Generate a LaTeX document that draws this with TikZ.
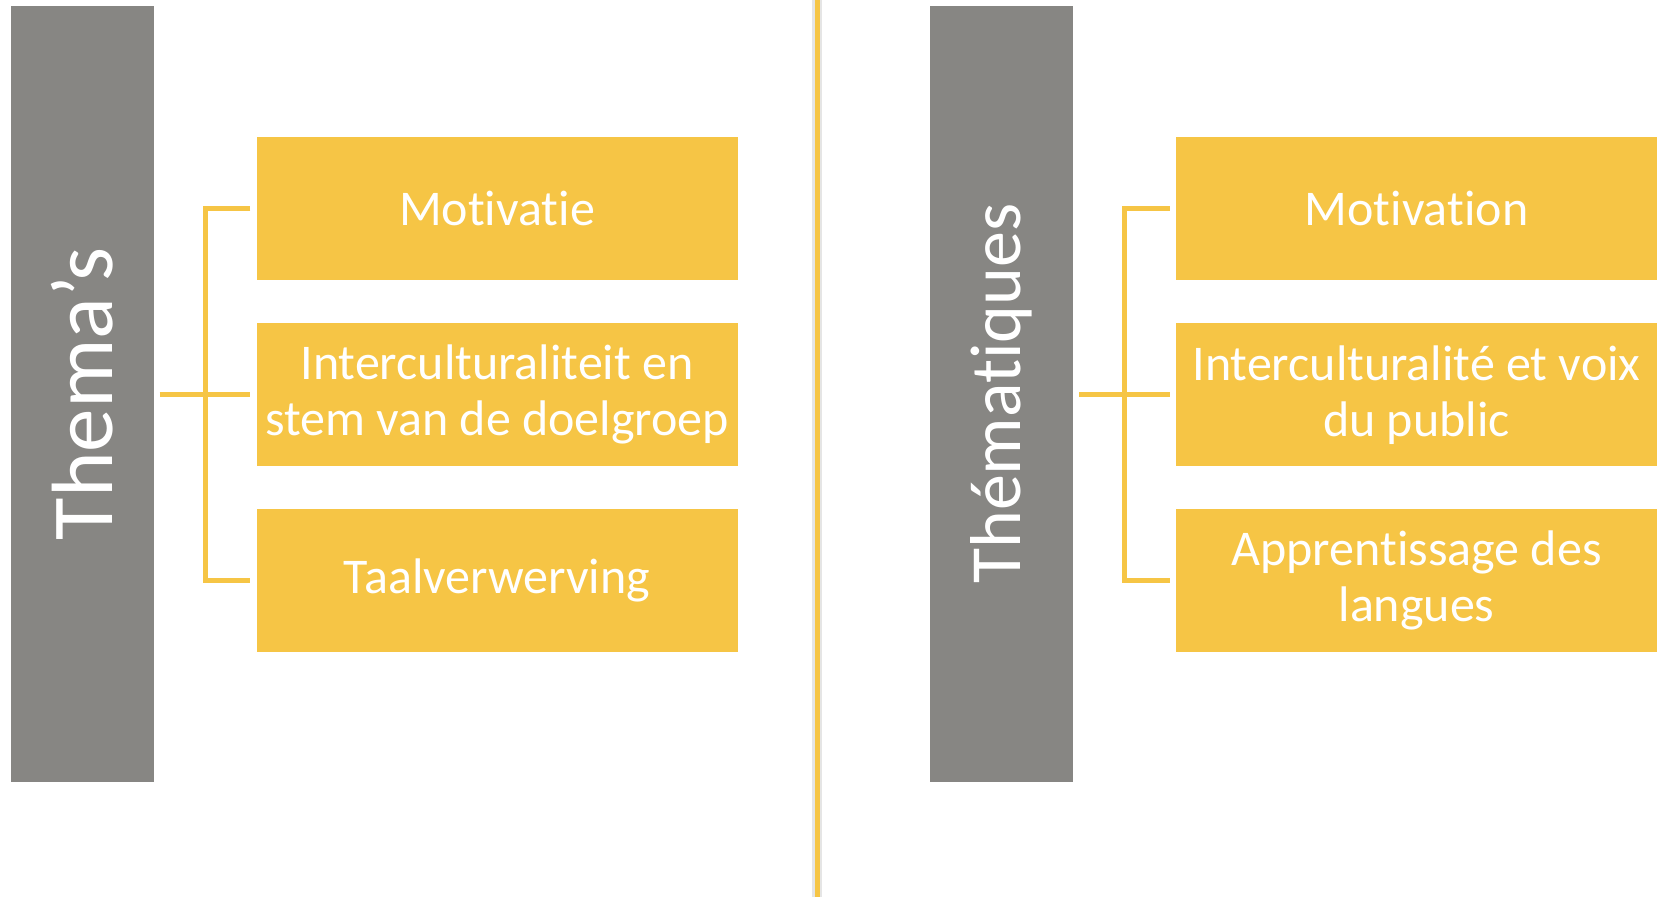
\documentclass[tikz,border=0pt]{standalone}
\usepackage{fontspec}
\setmainfont[Ligatures=NoCommon]{Carlito}
\definecolor{themagold}{RGB}{246, 197, 69}
\definecolor{themagrey}{RGB}{135, 134, 131}
\usetikzlibrary{calc, positioning}

\begin{document}
\begin{tikzpicture}[x=1pt, y=-1pt,
		bar/.style={fill=themagrey, minimum width=143pt, minimum height=776pt, inner sep=0pt},
		bartext/.style={text=white, rotate=90},
		topic/.style={fill=themagold, minimum width=481pt, minimum height=143pt, inner sep=0pt, text=white, align=center, font=\fontsize{50}{56}\selectfont},
		brace/.style={themagold, line width=5pt}]
			\useasboundingbox (0,0) rectangle (1659,897);
			% Divider
			\coordinate (divtop) at (817,0);
			\coordinate (divbot) at (817,897);
			\draw[black!10, line width=10pt] (divtop) -- (divbot);
			\draw[themagold, line width=5pt] (divtop) -- (divbot);
			
			% Grey bars
			\node[bar] (thema) at (82,393.6) {};
			\node[bartext, font=\fontsize{87}{96}\selectfont] at (thema) {Thema’s};
			\node[bar] (thematiques) at (1001.5,393.6) {};
			\node[bartext, font=\fontsize{72}{80}\selectfont] at (thematiques) {Thématiques};
			
			% Topics
			\node[topic] (motivatie) at (497,208.5) {Motivatie};
			\node[topic, below=43pt of motivatie] (intercult) {Interculturaliteit en\\stem van de doelgroep};
			\node[topic, below=42pt of intercult] (taal) {Taalverwerving};
			
			\node[topic] (motivation) at (1416.5,208.5) {Motivation};
			\node[topic, below=43pt of motivation] (interc) {Interculturalité et voix\\du public};
			\node[topic, below=42pt of interc] (apprent) {Apprentissage des\\langues};
			
			% Brackets
			\foreach \bar/\a/\b/\c in {thema/motivatie/intercult/taal, thematiques/motivation/interc/apprent}
			{
				\draw[brace] ($(\bar.east |- \b.west)+(6,0)$) -- ([xshift=-6pt]\b.west);
				\draw[brace] ([xshift=-6pt]\a.west) -| ([xshift=-51pt]\c.west) -- ([xshift=-6pt]\c.west);
			}
			
		\end{tikzpicture}
\end{document}
